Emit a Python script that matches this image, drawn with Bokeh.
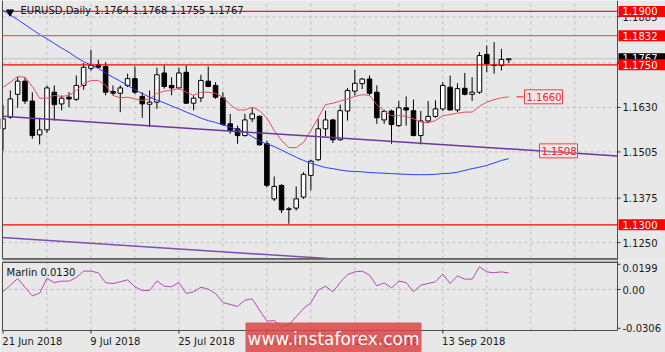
from bokeh.plotting import figure
from bokeh.layouts import column
from bokeh.models import Range1d
from bokeh.core.properties import value
from bokeh.embed import file_html
from bokeh.resources import INLINE

# ---------------- data ----------------
symbol_title = "EURUSD,Daily  1.1764 1.1768 1.1755 1.1767"
date_labels = ["21 Jun 2018", "9 Jul 2018", "25 Jul 2018", "10 Aug 2018", "28 Aug 2018", "13 Sep 2018"]
date_bars = [0, 12, 24, 36, 48, 60]
grid_bars = [6, 12, 18, 24, 30, 36, 42, 48, 54, 60, 66, 72, 78]

opens = [1.1570, 1.1603, 1.1667, 1.1704, 1.1648, 1.1553, 1.1567, 1.1673, 1.1640, 1.1659,
         1.1653, 1.1692, 1.1740, 1.1750, 1.1745, 1.1675, 1.1670, 1.1692, 1.1711, 1.1661,
         1.1639, 1.1645, 1.1727, 1.1692, 1.1685, 1.1729, 1.1642, 1.1657, 1.1704, 1.1692,
         1.1657, 1.1584, 1.1570, 1.1551, 1.1598, 1.1605, 1.1528, 1.1373, 1.1411, 1.1343,
         1.1347, 1.1378, 1.1439, 1.1483, 1.1570, 1.1595, 1.1539, 1.1620, 1.1676, 1.1697,
         1.1710, 1.1673, 1.1595, 1.1620, 1.1579, 1.1629, 1.1621, 1.1551, 1.1592, 1.1605,
         1.1626, 1.1687, 1.1623, 1.1684, 1.1667, 1.1673, 1.1779, 1.1749, 1.1748, 1.1764]
highs = [1.1636, 1.1678, 1.1715, 1.1715, 1.1673, 1.1601, 1.1692, 1.1692, 1.1664, 1.1673,
         1.1720, 1.1755, 1.1792, 1.1764, 1.1757, 1.1692, 1.1692, 1.1725, 1.1745, 1.1673,
         1.1678, 1.1742, 1.1748, 1.1715, 1.1742, 1.1748, 1.1664, 1.1722, 1.1745, 1.1701,
         1.1673, 1.1612, 1.1579, 1.1612, 1.1629, 1.1608, 1.1537, 1.1436, 1.1414, 1.1350,
         1.1408, 1.1448, 1.1483, 1.1598, 1.1621, 1.1598, 1.1638, 1.1685, 1.1736, 1.1713,
         1.1720, 1.1692, 1.1624, 1.1624, 1.1648, 1.1661, 1.1652, 1.1620, 1.1648, 1.1650,
         1.1701, 1.1720, 1.1698, 1.1727, 1.1715, 1.1786, 1.1804, 1.1814, 1.1795, 1.1768]
lows = [1.1509, 1.1598, 1.1629, 1.1640, 1.1542, 1.1526, 1.1558, 1.1593, 1.1622, 1.1631,
        1.1648, 1.1680, 1.1733, 1.1742, 1.1664, 1.1664, 1.1617, 1.1687, 1.1668, 1.1601,
        1.1575, 1.1626, 1.1683, 1.1664, 1.1680, 1.1640, 1.1622, 1.1645, 1.1687, 1.1654,
        1.1579, 1.1556, 1.1528, 1.1548, 1.1589, 1.1523, 1.1405, 1.1367, 1.1333, 1.1303,
        1.1340, 1.1373, 1.1397, 1.1479, 1.1549, 1.1530, 1.1537, 1.1593, 1.1664, 1.1682,
        1.1664, 1.1584, 1.1584, 1.1528, 1.1575, 1.1579, 1.1549, 1.1526, 1.1586, 1.1601,
        1.1620, 1.1622, 1.1617, 1.1664, 1.1648, 1.1668, 1.1729, 1.1725, 1.1734, 1.1755]
closes = [1.1598, 1.1654, 1.1704, 1.1648, 1.1551, 1.1567, 1.1685, 1.1638, 1.1656, 1.1654,
          1.1692, 1.1743, 1.1748, 1.1743, 1.1673, 1.1670, 1.1685, 1.1711, 1.1673, 1.1640,
          1.1645, 1.1722, 1.1689, 1.1685, 1.1727, 1.1642, 1.1656, 1.1706, 1.1689, 1.1659,
          1.1582, 1.1565, 1.1551, 1.1595, 1.1612, 1.1525, 1.1411, 1.1408, 1.1342, 1.1345,
          1.1373, 1.1442, 1.1479, 1.1570, 1.1595, 1.1539, 1.1621, 1.1678, 1.1698, 1.1710,
          1.1670, 1.1601, 1.1619, 1.1582, 1.1629, 1.1623, 1.1551, 1.1592, 1.1605, 1.1626,
          1.1692, 1.1623, 1.1683, 1.1667, 1.1673, 1.1776, 1.1753, 1.1748, 1.1765, 1.1767]

ma_red = [1.1687, 1.1701, 1.1717, 1.1715, 1.1689, 1.1656, 1.1656, 1.1664, 1.1661, 1.1664,
          1.1678, 1.1697, 1.1706, 1.1706, 1.1692, 1.1664, 1.1657, 1.1659, 1.1654, 1.1650,
          1.1654, 1.1670, 1.1676, 1.1678, 1.1684, 1.1673, 1.1664, 1.1673, 1.1673, 1.1670,
          1.1659, 1.1638, 1.1623, 1.1623, 1.1631, 1.1621, 1.1600, 1.1565, 1.1537, 1.1517,
          1.1517, 1.1532, 1.1565, 1.1601, 1.1638, 1.1642, 1.1648, 1.1654, 1.1661, 1.1666,
          1.1664, 1.1638, 1.1620, 1.1607, 1.1607, 1.1605, 1.1598, 1.1589, 1.1587, 1.1593,
          1.1607, 1.1610, 1.1614, 1.1617, 1.1617, 1.1633, 1.1645, 1.1652, 1.1657, 1.1660]

ma_blue = [1.1903, 1.1890, 1.1877, 1.1863, 1.1849, 1.1835, 1.1823, 1.1810, 1.1797, 1.1785,
           1.1771, 1.1759, 1.1749, 1.1740, 1.1727, 1.1715, 1.1704, 1.1692, 1.1680, 1.1669,
           1.1659, 1.1651, 1.1643, 1.1634, 1.1626, 1.1617, 1.1609, 1.1600, 1.1593, 1.1588,
           1.1581, 1.1574, 1.1567, 1.1561, 1.1548, 1.1536, 1.1527, 1.1520, 1.1510, 1.1500,
           1.1490, 1.1481, 1.1473, 1.1467, 1.1461, 1.1458, 1.1454, 1.1451, 1.1450, 1.1449,
           1.1447, 1.1446, 1.1445, 1.1444, 1.1443, 1.1442, 1.1441, 1.1441, 1.1441, 1.1442,
           1.1444, 1.1445, 1.1448, 1.1453, 1.1458, 1.1462, 1.1467, 1.1474, 1.1481, 1.1486]

marlin = [-0.0018, 0.0034, 0.0087, 0.0018, -0.0050, -0.0029, 0.0087, 0.0055, 0.0066, 0.0066,
          0.0095, 0.0145, 0.0145, 0.0132, 0.0053, 0.0047, 0.0061, 0.0076, 0.0021, -0.0008,
          -0.0008, 0.0068, 0.0026, 0.0021, 0.0055, -0.0032, -0.0018, 0.0018, 0.0003, -0.0032,
          -0.0103, -0.0118, -0.0134, -0.0084, -0.0074, -0.0163, -0.0250, -0.0245, -0.0295, -0.0276,
          -0.0216, -0.0150, -0.0105, -0.0005, 0.0026, -0.0018, 0.0055, 0.0118, 0.0139, 0.0145,
          0.0113, 0.0029, 0.0053, 0.0013, 0.0066, 0.0055, -0.0018, 0.0034, 0.0047, 0.0061,
          0.0121, 0.0047, 0.0108, 0.0082, 0.0082, 0.0179, 0.0139, 0.0132, 0.0139, 0.0130]
marlin_title = "Marlin 0.0130"

price_ticks = [1.1250, 1.1375, 1.1505, 1.1630, 1.1755, 1.1885]
marlin_ticks = [0.0199, 0.0, -0.0306]
marlin_tick_labels = ["0.0199", "0.00", "-0.0306"]
levels = [1.1900, 1.1832, 1.1750, 1.1300]
last_price = 1.1767
ma_label = 1.1660
trend_label = 1.1508
trend_upper_x = [0, 69]
trend_upper_y = [1.1605, 1.15135]
trend_lower_x = [0, 69]
trend_lower_y = [1.1264, 1.11725]
watermark = "www.instaforex.com"

# ---------------- layout helpers (pixel geometry) ----------------
BG = "#e8e8e8"
FRAME_COL = "#4d4d4d"
GRID_COL = "#bdbdbd"
FONT = value("DejaVu Sans")
W = 665
FRAME_L, FRAME_R = 2, 617
BAR0_PX, BAR_PX = 2.5, 7.33


def bx(px):
    return (px - BAR0_PX) / BAR_PX


P_REF_Y, P_REF, PX_PER_PRICE = 64.3, 1.1750, 3556.0


def py(y):
    return P_REF + (P_REF_Y - y) / PX_PER_PRICE


def ph(px):
    return px / PX_PER_PRICE


M_ZERO_Y, PX_PER_M = 289.0, 1267.0


def my(y):
    return (M_ZERO_Y - y) / PX_PER_M


x_range = Range1d(bx(0), bx(W))
n = len(opens)
bars = list(range(n))

# ---------------- main price panel ----------------
MAIN_H, MAIN_BOTTOM = 260, 258
p = figure(width=W, height=MAIN_H, x_range=x_range, y_range=Range1d(py(MAIN_H), py(0)),
           output_backend="svg", toolbar_location=None, x_axis_location=None,
           y_axis_location=None, min_border=0)
p.background_fill_color = BG
p.border_fill_color = BG
p.outline_line_color = None
p.grid.visible = False

y_top, y_bot = py(0), py(MAIN_BOTTOM)
xl, xr = bx(FRAME_L), bx(FRAME_R)

# dashed grid
p.segment(x0=[xl] * len(price_ticks), x1=[xr] * len(price_ticks), y0=price_ticks, y1=price_ticks,
          line_color=GRID_COL, line_dash="3 3", line_width=1)
p.segment(x0=grid_bars, x1=grid_bars, y0=[y_bot] * len(grid_bars), y1=[y_top] * len(grid_bars),
          line_color=GRID_COL, line_dash="3 3", line_width=1)

# bid line
p.segment(x0=[xl], x1=[xr], y0=[last_price], y1=[last_price], line_color="#cdcdcd", line_width=1.5)

# candles
body_top = [max(o, c) for o, c in zip(opens, closes)]
body_bot = [min(o, c) for o, c in zip(opens, closes)]
body_fill = ["white" if c >= o else "black" for o, c in zip(opens, closes)]
p.segment(x0=bars, y0=highs, x1=bars, y1=lows, line_color="black", line_width=1)
p.vbar(x=bars, width=0.62, top=body_top, bottom=body_bot, fill_color=body_fill,
       line_color="black", line_width=1)

# moving averages
p.line(bars, ma_red, line_color="#e2505f", line_width=1)
p.line(bars, ma_blue, line_color="#2b3dff", line_width=1)

# trend channel
s_up = (trend_upper_y[1] - trend_upper_y[0]) / (trend_upper_x[1] - trend_upper_x[0])
p.line([xl, xr], [trend_upper_y[0] + s_up * (xx - trend_upper_x[0]) for xx in (xl, xr)],
       line_color="#6a36a0", line_width=1.5)
s_lo = (trend_lower_y[1] - trend_lower_y[0]) / (trend_lower_x[1] - trend_lower_x[0])
x_hit = trend_lower_x[0] + (y_bot - trend_lower_y[0]) / s_lo
p.line([xl, x_hit], [trend_lower_y[0] + s_lo * (xx - trend_lower_x[0]) for xx in (xl, x_hit)],
       line_color="#7e4db5", line_width=1.5)

# horizontal levels (each drawn on its own)
level_colors = ["#ff1a1a", "#ef5d5d", "#ff0000", "#ff0000"]
for lv, col in zip(levels, level_colors):
    p.line([xl, xr], [lv, lv], line_color=col, line_width=1.2)

# MA value label with dash
p.segment(x0=[bx(516)], y0=[ma_label], x1=[bx(523)], y1=[ma_label], line_color="#ff2020", line_width=1)
p.quad(left=[bx(524)], right=[bx(562)], top=[ma_label + ph(7)], bottom=[ma_label - ph(7)],
       fill_color=BG, fill_alpha=0.6, line_color="#ff3a3a", line_width=1)
p.text(x=[bx(526)], y=[ma_label], text=[f"{ma_label:.4f}"], text_font=FONT, text_font_size="10px",
       text_color="#ff2020", text_baseline="middle", text_align="left")
# trend line value label
p.quad(left=[bx(539)], right=[bx(577)], top=[trend_label + ph(7)], bottom=[trend_label - ph(7)],
       fill_color=BG, fill_alpha=0.35, line_color="#ff3a3a", line_width=1)
p.text(x=[bx(541)], y=[trend_label], text=[f"{trend_label:.4f}"], text_font=FONT, text_font_size="10px",
       text_color="#ff2020", text_baseline="middle", text_align="left")

# hide the part of the first candle left of the frame
p.quad(left=[bx(0)], right=[xl], top=[py(0)], bottom=[py(MAIN_H)], fill_color=BG, line_color=None)

# frame borders
p.segment(x0=[xl, xr, xl], x1=[xl, xr, xr], y0=[y_top, y_top, y_bot], y1=[y_bot, py(MAIN_H), y_bot],
          line_color=FRAME_COL, line_width=1)
# separator band between the two panels
p.quad(left=[xl], right=[xr], top=[py(MAIN_BOTTOM)], bottom=[py(MAIN_H)], fill_color="#7a7a7a",
       line_color=None)

# right price scale
p.segment(x0=[xr] * len(price_ticks), x1=[bx(FRAME_R + 3)] * len(price_ticks), y0=price_ticks,
          y1=price_ticks, line_color="#333333", line_width=1)
p.text(x=[bx(FRAME_R + 5)] * len(price_ticks), y=price_ticks, text=[f"{t:.4f}" for t in price_ticks],
       text_font=FONT, text_font_size="10px", text_color="#1a1a1a", text_baseline="middle",
       text_align="left")

# price boxes on the scale
p.quad(left=[bx(FRAME_R + 1)], right=[bx(W)], top=[last_price + ph(5.5)], bottom=[last_price - ph(5.5)],
       fill_color="black", line_color=None)
p.text(x=[bx(FRAME_R + 5)], y=[last_price + ph(0.5)], text=[f"{last_price:.4f}"], text_font=FONT,
       text_font_size="10px", text_color="white", text_baseline="middle", text_align="left")
p.quad(left=[bx(FRAME_R + 1)] * len(levels), right=[bx(W)] * len(levels),
       top=[lv + ph(5.5) for lv in levels], bottom=[lv - ph(5.5) for lv in levels],
       fill_color="#ff0000", line_color=None)
p.text(x=[bx(FRAME_R + 5)] * len(levels), y=levels, text=[f"{lv:.4f}" for lv in levels],
       text_font=FONT, text_font_size="10px", text_color="white", text_baseline="middle",
       text_align="left")

# header
p.scatter(x=[bx(9.5)], y=[py(11.5)], marker="inverted_triangle", size=7, fill_color="black",
          line_color="black")
p.text(x=[bx(20)], y=[py(10)], text=[symbol_title], text_font=FONT, text_font_size="10px",
       text_color="#111111", text_baseline="middle", text_align="left")

# ---------------- Marlin panel ----------------
Q_TOP, Q_H = 260, 92
Q_FT, Q_FB = 262, 330
q = figure(width=W, height=Q_H, x_range=x_range, y_range=Range1d(my(Q_TOP + Q_H), my(Q_TOP)),
           output_backend="svg", toolbar_location=None, x_axis_location=None,
           y_axis_location=None, min_border=0)
q.background_fill_color = BG
q.border_fill_color = BG
q.outline_line_color = None
q.grid.visible = False

qt, qb = my(Q_FT), my(Q_FB)
q.quad(left=[xl], right=[xr], top=[my(Q_TOP)], bottom=[my(Q_FT - 1)], fill_color="#7a7a7a", line_color=None)

q.segment(x0=[xl], x1=[xr], y0=[0.0], y1=[0.0], line_color=GRID_COL, line_dash="3 3", line_width=1)
q.segment(x0=grid_bars, x1=grid_bars, y0=[qb] * len(grid_bars), y1=[qt] * len(grid_bars),
          line_color=GRID_COL, line_dash="3 3", line_width=1)

q.line(bars, marlin, line_color="#b24ab8", line_width=1)

q.text(x=[bx(6)], y=[my(272)], text=[marlin_title], text_font=FONT, text_font_size="10px",
       text_color="#111111", text_baseline="middle", text_align="left")

# frame borders
q.segment(x0=[xl, xr, xl, xl], x1=[xl, xr, xr, xr], y0=[qt, my(Q_TOP), qt, qb], y1=[qb, qb, qt, qb],
          line_color=FRAME_COL, line_width=1)

# right scale
q.segment(x0=[xr] * 3, x1=[bx(FRAME_R + 3)] * 3, y0=marlin_ticks, y1=marlin_ticks,
          line_color="#333333", line_width=1)
q.text(x=[bx(FRAME_R + 5)] * 3, y=marlin_ticks, text=marlin_tick_labels, text_font=FONT,
       text_font_size="10px", text_color="#1a1a1a", text_baseline=["top", "middle", "middle"],
       text_align="left")

# time scale
q.segment(x0=date_bars, x1=date_bars, y0=[qb] * len(date_bars), y1=[my(Q_FB + 3)] * len(date_bars),
          line_color="#333333", line_width=1)
q.text(x=[b - 0.1 for b in date_bars], y=[my(341)] * len(date_bars), text=date_labels, text_font=FONT,
       text_font_size="10px", text_color="#1a1a1a", text_baseline="middle", text_align="left")

# watermark
q.quad(left=[bx(245)], right=[bx(421)], top=[my(322)], bottom=[my(356)], fill_color="#d94545",
       fill_alpha=0.85, line_color=None)
q.text(x=[bx(333)], y=[my(338)], text=[watermark], text_font=FONT, text_font_size="17px",
       text_color="white", text_baseline="middle", text_align="center")

layout = column(p, q, spacing=0)
open("out.html", "w").write(file_html(layout, INLINE))
